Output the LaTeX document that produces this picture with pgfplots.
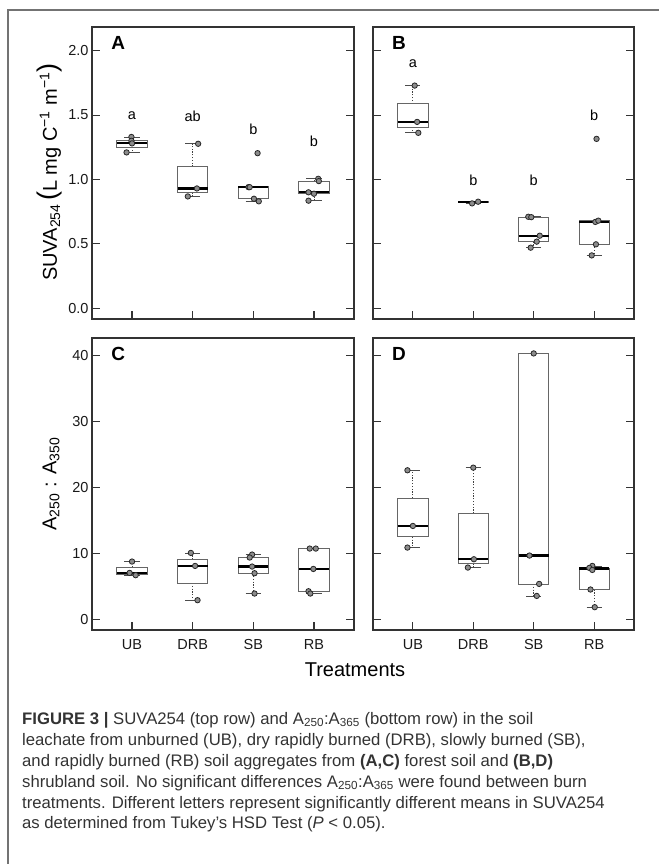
\documentclass[border=0pt]{standalone}
\usepackage{pgfplots}
\pgfplotsset{compat=1.18}
\usepgfplotslibrary{statistics}
\usepackage{fontspec}
\setmainfont{Liberation Sans}

\pgfplotsset{
  boxplot/draw/lower whisker/.code={%
    \draw[black!75, line width=0.9pt, dash pattern=on 1.2pt off 1.6pt]
      (boxplot box cs:\pgfplotsboxplotvalue{lower quartile},0.5) --
      (boxplot box cs:\pgfplotsboxplotvalue{lower whisker},0.5);
    \draw[black!70, line width=0.8pt]
      (boxplot whisker cs:\pgfplotsboxplotvalue{lower whisker},0) --
      (boxplot whisker cs:\pgfplotsboxplotvalue{lower whisker},1);
  },
  boxplot/draw/upper whisker/.code={%
    \draw[black!75, line width=0.9pt, dash pattern=on 1.2pt off 1.6pt]
      (boxplot box cs:\pgfplotsboxplotvalue{upper quartile},0.5) --
      (boxplot box cs:\pgfplotsboxplotvalue{upper whisker},0.5);
    \draw[black!70, line width=0.8pt]
      (boxplot whisker cs:\pgfplotsboxplotvalue{upper whisker},0) --
      (boxplot whisker cs:\pgfplotsboxplotvalue{upper whisker},1);
  },
  panel/.style={
    scale only axis, width=262pt, height=292pt, anchor=north west,
    xmin=0.34, xmax=4.66, xtick={1,2,3,4},
    xtick pos=left, ytick pos=both,
    tick align=inside, major tick length=8pt,
    axis line style={black!80, line width=1.1pt},
    every tick/.style={black!80, line width=1.1pt},
    tick label style={font=\fontsize{14.5}{14.5}\selectfont, black!90},
    /pgf/number format/assume math mode=true,
    xticklabel style={yshift=-6pt},
  },
  suva/.style={ymin=-0.084, ymax=2.184, ytick={0,0.5,1,1.5,2},
    yticklabel style={/pgf/number format/.cd, fixed, fixed zerofill, precision=1},
    xticklabels={}},
  ratio/.style={ymin=-1.64, ymax=42.64, ytick={0,10,20,30,40},
    xticklabels={UB,DRB,SB,RB}},
  bp/.style={draw=black!60, line width=0.8pt,
    boxplot/draw direction=y,
    boxplot/box extend=0.5, boxplot/whisker extend=0.25,
    boxplot/every median/.style={draw=black, line width=2.2pt}},
  pts/.style={only marks, mark=*, mark size=2.7pt,
    mark options={fill=black!45, draw=black!85, line width=0.8pt}},
}
\tikzset{
  plab/.style={font=\bfseries\fontsize{19}{19}\selectfont},
  ltr/.style={font=\fontsize{14.5}{14.5}\selectfont},
}

\begin{document}
\begin{tikzpicture}
\path[use as bounding box] (0,0) rectangle (659pt,-864pt);
\draw[black!55, line width=1.2pt] (8pt,-864pt) -- (8pt,-10pt) -- (659pt,-10pt);

% A: forest soil, SUVA254
\begin{axis}[panel, suva, at={(92pt,-27pt)}]
\addplot[bp, boxplot prepared={draw position=1, lower whisker=1.21, lower quartile=1.25, median=1.28, upper quartile=1.30, upper whisker=1.33}] coordinates {};
\addplot[bp, boxplot prepared={draw position=2, lower whisker=0.868, lower quartile=0.899, median=0.93, upper quartile=1.10, upper whisker=1.277}] coordinates {};
\addplot[bp, boxplot prepared={draw position=3, lower whisker=0.83, lower quartile=0.85, median=0.94, upper quartile=0.943, upper whisker=0.943}] coordinates {};
\addplot[bp, boxplot prepared={draw position=4, lower whisker=0.835, lower quartile=0.889, median=0.90, upper quartile=0.987, upper whisker=1.005}] coordinates {};
\addplot[pts] coordinates {
  (0.99,1.33) (0.99,1.30) (1.00,1.28) (0.91,1.21)
  (2.09,1.277) (2.07,0.93) (1.92,0.868)
  (3.07,1.204) (2.92,0.94) (2.94,0.94) (3.01,0.85) (3.09,0.83)
  (4.07,1.005) (4.08,0.987) (3.91,0.90) (4.00,0.889) (3.91,0.835)
};
\node[plab] at (rel axis cs:0.1,0.945) {A};
\node[ltr] at (axis cs:1,1.496) {a};
\node[ltr] at (axis cs:2,1.49) {ab};
\node[ltr] at (axis cs:3,1.393) {b};
\node[ltr] at (axis cs:4,1.297) {b};
\end{axis}

% B: shrubland soil, SUVA254
\begin{axis}[panel, suva, width=261pt, yticklabels={}, at={(373pt,-27pt)}]
\addplot[bp, boxplot prepared={draw position=1, lower whisker=1.362, lower quartile=1.405, median=1.447, upper quartile=1.588, upper whisker=1.729}] coordinates {};
\addplot[bp, boxplot prepared={draw position=2, lower whisker=0.814, lower quartile=0.822, median=0.824, upper quartile=0.826, upper whisker=0.827}] coordinates {};
\addplot[bp, boxplot prepared={draw position=3, lower whisker=0.47, lower quartile=0.517, median=0.563, upper quartile=0.707, upper whisker=0.71}] coordinates {};
\addplot[bp, boxplot prepared={draw position=4, lower whisker=0.41, lower quartile=0.496, median=0.672, upper quartile=0.68, upper whisker=0.68}] coordinates {};
\addplot[pts] coordinates {
  (1.03,1.729) (1.07,1.447) (1.09,1.362)
  (1.98,0.814) (2.08,0.827)
  (2.91,0.71) (2.96,0.707) (3.10,0.563) (3.05,0.517) (2.95,0.47)
  (4.04,1.315) (4.02,0.67) (4.07,0.68) (4.03,0.496) (3.96,0.41)
};
\node[plab] at (rel axis cs:0.1,0.945) {B};
\node[ltr] at (axis cs:1,1.90) {a};
\node[ltr] at (axis cs:2,0.995) {b};
\node[ltr] at (axis cs:3,0.995) {b};
\node[ltr] at (axis cs:4,1.496) {b};
\end{axis}

% C: forest soil, A250:A350
\begin{axis}[panel, ratio, at={(92pt,-338pt)}]
\addplot[bp, boxplot prepared={draw position=1, lower whisker=6.67, lower quartile=6.845, median=7.02, upper quartile=7.88, upper whisker=8.74}] coordinates {};
\addplot[bp, boxplot prepared={draw position=2, lower whisker=2.88, lower quartile=5.48, median=8.08, upper quartile=9.065, upper whisker=10.05}] coordinates {};
\addplot[bp, boxplot prepared={draw position=3, lower whisker=3.89, lower quartile=6.97, median=7.98, upper quartile=9.35, upper whisker=9.8}] coordinates {};
\addplot[bp, boxplot prepared={draw position=4, lower whisker=3.89, lower quartile=4.24, median=7.62, upper quartile=10.71, upper whisker=10.71}] coordinates {};
\addplot[pts] coordinates {
  (1.00,8.74) (0.96,7.02) (1.06,6.67)
  (1.97,10.05) (2.04,8.08) (2.08,2.88)
  (2.98,9.8) (2.94,9.35) (2.98,7.98) (3.02,6.97) (3.02,3.89)
  (3.93,10.71) (4.03,10.71) (3.99,7.62) (3.91,4.24) (3.94,3.89)
};
\node[plab] at (rel axis cs:0.1,0.945) {C};
\end{axis}

% D: shrubland soil, A250:A350
\begin{axis}[panel, ratio, width=261pt, yticklabels={}, at={(373pt,-338pt)}]
\addplot[bp, boxplot prepared={draw position=1, lower whisker=10.86, lower quartile=12.5, median=14.14, upper quartile=18.36, upper whisker=22.58}] coordinates {};
\addplot[bp, boxplot prepared={draw position=2, lower whisker=7.83, lower quartile=8.46, median=9.09, upper quartile=16.03, upper whisker=22.98}] coordinates {};
\addplot[bp, boxplot prepared={draw position=3, lower whisker=3.53, lower quartile=5.35, median=9.65, upper quartile=40.3, upper whisker=40.3}] coordinates {};
\addplot[bp, boxplot prepared={draw position=4, lower whisker=1.82, lower quartile=4.5, median=7.68, upper quartile=7.7, upper whisker=8.08}] coordinates {};
\addplot[pts] coordinates {
  (0.91,22.58) (1.00,14.14) (0.91,10.86)
  (2.00,22.98) (2.01,9.09) (1.91,7.83)
  (3.00,40.3) (2.93,9.65) (3.09,5.35) (3.05,3.53)
  (3.97,8.08) (3.92,7.78) (3.97,7.47) (3.94,4.5) (4.01,1.82)
};
\node[plab] at (rel axis cs:0.1,0.945) {D};
\end{axis}

% axis titles
\node[rotate=90, font=\fontsize{20}{20}\selectfont] at (50pt,-172pt)
  {SUVA\textsubscript{254}\,{\fontsize{27}{27}\selectfont(}L mg C\textsuperscript{−1} m\textsuperscript{−1}{\fontsize{27}{27}\selectfont)}};
\node[rotate=90, font=\fontsize{20}{20}\selectfont] at (51pt,-484pt)
  {A\textsubscript{250} : A\textsubscript{350}};
\node[font=\fontsize{20}{20}\selectfont] at (355pt,-670pt) {Treatments};

% caption
\begin{scope}[every node/.style={anchor=base west, inner sep=0pt, text=black!80, font=\fontsize{16.7}{16.7}\selectfont}]
\node at (22pt,-724pt) {\textbf{FIGURE 3 |} SUVA254 (top row) and A\textsubscript{250}:A\textsubscript{365} (bottom row) in the soil};
\node at (22pt,-745pt) {leachate from unburned (UB), dry rapidly burned (DRB), slowly burned (SB),};
\node at (22pt,-766pt) {and rapidly burned (RB) soil aggregates from \textbf{(A,C)} forest soil and \textbf{(B,D)}};
\node at (22pt,-787pt) {shrubland soil. No significant differences A\textsubscript{250}:A\textsubscript{365} were found between burn};
\node at (22pt,-808pt) {treatments. Different letters represent significantly different means in SUVA254};
\node at (22pt,-828pt) {as determined from Tukey’s HSD Test (\textit{P} \textless{} 0.05).};
\end{scope}
\end{tikzpicture}
\end{document}
